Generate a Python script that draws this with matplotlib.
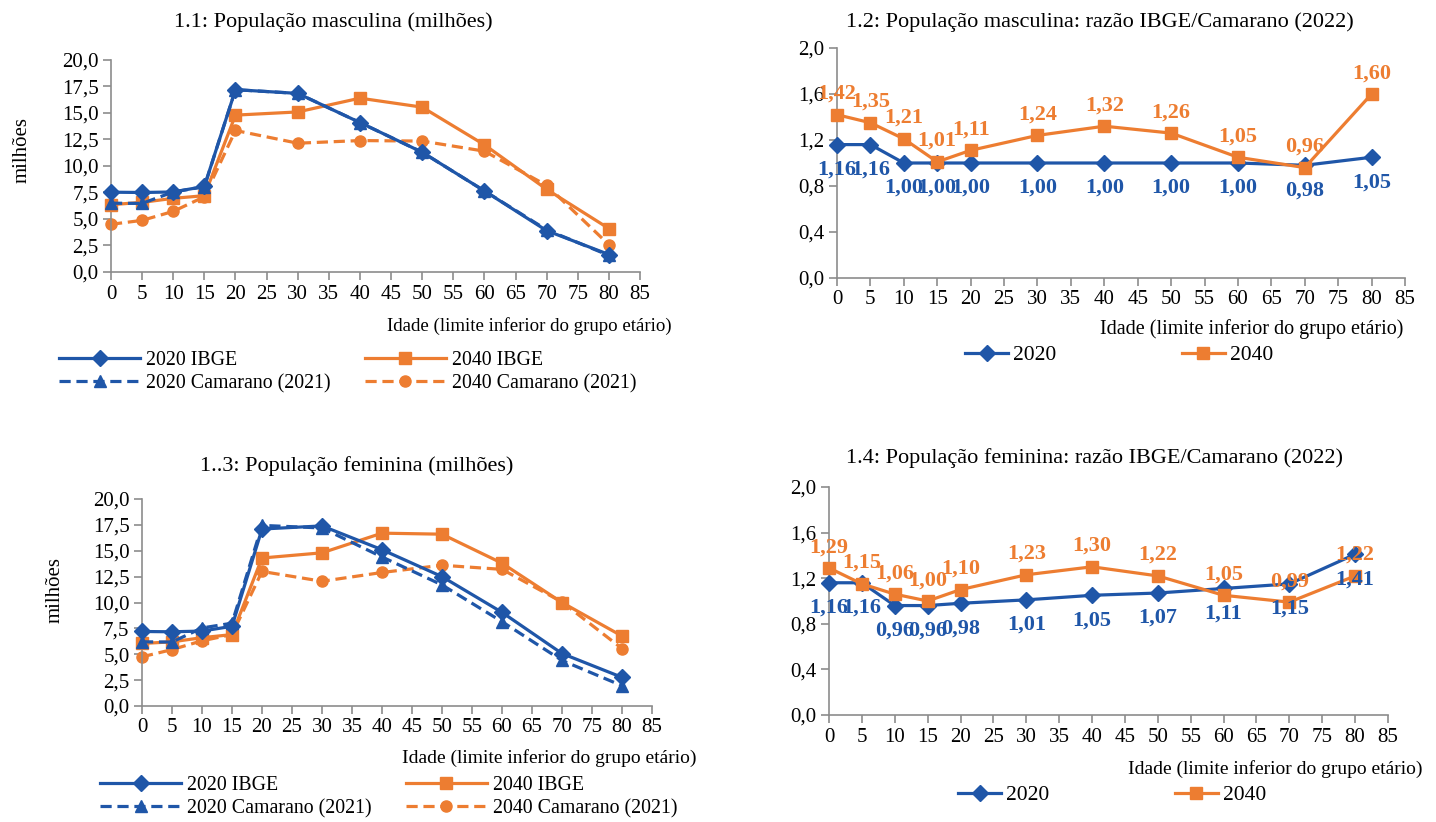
import matplotlib
matplotlib.use("Agg")
import matplotlib.pyplot as plt
from matplotlib.ticker import FuncFormatter, MultipleLocator
from matplotlib.lines import Line2D

plt.rcParams['font.family'] = ['Liberation Serif', 'DejaVu Serif']

# idade (limite inferior do grupo etario)
idades = [0, 5, 10, 15, 20, 30, 40, 50, 60, 70, 80]

# 1.1 populacao masculina (milhoes)
masc_2020_ibge = [7.53, 7.50, 7.55, 8.07, 17.2, 16.85, 14.1, 11.3, 7.65, 3.9, 1.65]
masc_2020_cam = [6.49, 6.47, 7.55, 8.05, 17.2, 16.85, 14.1, 11.3, 7.65, 3.98, 1.57]
masc_2040_ibge = [6.35, 6.57, 6.95, 7.2, 14.8, 15.1, 16.4, 15.55, 12.0, 7.8, 4.1]
masc_2040_cam = [4.5, 4.87, 5.72, 7.1, 13.35, 12.15, 12.4, 12.35, 11.4, 8.17, 2.58]

# 1.2 razao IBGE/Camarano, masculina
razao_masc_2020 = [1.16, 1.16, 1.00, 1.00, 1.00, 1.00, 1.00, 1.00, 1.00, 0.98, 1.05]
razao_masc_2040 = [1.42, 1.35, 1.21, 1.01, 1.11, 1.24, 1.32, 1.26, 1.05, 0.96, 1.60]

# 1.3 populacao feminina (milhoes)
fem_2020_ibge = [7.2, 7.17, 7.24, 7.7, 17.1, 17.4, 15.1, 12.5, 9.05, 5.07, 2.77]
fem_2020_cam = [6.2, 6.18, 7.54, 8.0, 17.45, 17.2, 14.4, 11.7, 8.15, 4.4, 1.96]
fem_2040_ibge = [6.04, 6.2, 6.6, 6.9, 14.3, 14.8, 16.7, 16.6, 13.8, 10.0, 6.76]
fem_2040_cam = [4.75, 5.45, 6.3, 6.9, 13.0, 12.05, 12.9, 13.6, 13.2, 10.05, 5.55]

# 1.4 razao IBGE/Camarano, feminina
razao_fem_2020 = [1.16, 1.16, 0.96, 0.96, 0.98, 1.01, 1.05, 1.07, 1.11, 1.15, 1.41]
razao_fem_2040 = [1.29, 1.15, 1.06, 1.00, 1.10, 1.23, 1.30, 1.22, 1.05, 0.99, 1.22]

AZUL = '#1f56a8'
LARANJA = '#ed7d31'
CINZA = '#8c8c8c'

W, H = 1436, 822
fig = plt.figure(figsize=(W / 100, H / 100), dpi=100)


def caixa(l, t, r, b):
    return [l / W, 1 - b / H, (r - l) / W, (b - t) / H]


def virgula(v, pos):
    return f"{v:.1f}".replace('.', ',')


def estilo(ax, ymax, ystep):
    ax.set_xlim(0, 85)
    ax.set_ylim(0, ymax)
    ax.xaxis.set_major_locator(MultipleLocator(5))
    ax.yaxis.set_major_locator(MultipleLocator(ystep))
    ax.yaxis.set_major_formatter(FuncFormatter(virgula))
    for s in ['top', 'right']:
        ax.spines[s].set_visible(False)
    for s in ['left', 'bottom']:
        ax.spines[s].set_color(CINZA)
        ax.spines[s].set_linewidth(1.2)
    ax.tick_params(direction='out', length=6, width=1.2, color=CINZA,
                   labelsize=15, pad=3)


def painel_pop(ax, s20i, s20c, s40i, s40c):
    ax.plot(idades, s20i, color=AZUL, lw=2.3, marker='D', ms=8.5, clip_on=False, zorder=4)
    ax.plot(idades, s40i, color=LARANJA, lw=2.3, marker='s', ms=8, clip_on=False, zorder=3)
    ax.plot(idades, s20c, color=AZUL, lw=2.3, ls=(0, (3.5, 1.8)), marker='^', ms=8,
            clip_on=False, zorder=3)
    ax.plot(idades, s40c, color=LARANJA, lw=2.3, ls=(0, (3.5, 1.8)), marker='o', ms=8,
            clip_on=False, zorder=2)
    estilo(ax, 20, 2.5)


def painel_razao(ax, r20, r40):
    ax.plot(idades, r20, color=AZUL, lw=2.3, marker='D', ms=8.5, clip_on=False, zorder=3)
    ax.plot(idades, r40, color=LARANJA, lw=2.3, marker='s', ms=8, clip_on=False, zorder=3)
    for x, v in zip(idades, r20):
        ax.annotate(f"{v:.2f}".replace('.', ','), (x, v), xytext=(0, -18),
                    textcoords='offset points', ha='center', va='center',
                    fontsize=16, fontweight='bold', color=AZUL, annotation_clip=False)
    for x, v in zip(idades, r40):
        ax.annotate(f"{v:.2f}".replace('.', ','), (x, v), xytext=(0, 15),
                    textcoords='offset points', ha='center', va='center',
                    fontsize=16, fontweight='bold', color=LARANJA, annotation_clip=False)
    estilo(ax, 2.0, 0.4)


def legenda_pop(x, y):
    h = [Line2D([], [], color=AZUL, lw=2.3, marker='D', ms=8.5),
         Line2D([], [], color=AZUL, lw=2.3, ls=(0, (3.5, 1.8)), marker='^', ms=8),
         Line2D([], [], color=LARANJA, lw=2.3, marker='s', ms=8),
         Line2D([], [], color=LARANJA, lw=2.3, ls=(0, (3.5, 1.8)), marker='o', ms=8)]
    lab = ['2020 IBGE', '2020 Camarano (2021)', '2040 IBGE', '2040 Camarano (2021)']
    fig.legend(h, lab, loc='upper left', bbox_to_anchor=(x / W, 1 - y / H), ncol=2,
               frameon=False, fontsize=14.3, handlelength=4.1, handletextpad=0.3,
               columnspacing=1.7, labelspacing=0.2, borderpad=0, borderaxespad=0)


def legenda_razao(x, y):
    h = [Line2D([], [], color=AZUL, lw=2.3, marker='D', ms=8.5),
         Line2D([], [], color=LARANJA, lw=2.3, marker='s', ms=8)]
    fig.legend(h, ['2020', '2040'], loc='upper left', bbox_to_anchor=(x / W, 1 - y / H),
               ncol=2, frameon=False, fontsize=15.5, handlelength=2.0, handletextpad=0.25,
               columnspacing=5.8, borderpad=0, borderaxespad=0)


xlab = 'Idade (limite inferior do grupo etário)'

# 1.1
ax1 = fig.add_axes(caixa(111, 60, 640, 272))
painel_pop(ax1, masc_2020_ibge, masc_2020_cam, masc_2040_ibge, masc_2040_cam)
fig.text(333 / W, 1 - 22 / H, '1.1: População masculina (milhões)', ha='center',
         va='center', fontsize=16)
fig.text(387 / W, 1 - 326 / H, xlab, ha='left', va='center', fontsize=13.6)
fig.text(22 / W, 1 - 150 / H, 'milhões', rotation=90, ha='center', va='center', fontsize=15)
legenda_pop(59, 351)

# 1.2
ax2 = fig.add_axes(caixa(837, 48, 1405, 278))
painel_razao(ax2, razao_masc_2020, razao_masc_2040)
fig.text(1100 / W, 1 - 22 / H, '1.2: População masculina: razão IBGE/Camarano (2022)',
         ha='center', va='center', fontsize=16)
fig.text(1100 / W, 1 - 329 / H, xlab, ha='left', va='center', fontsize=14.5)
legenda_razao(965, 345)

# 1.3
ax3 = fig.add_axes(caixa(142, 499, 652, 706))
painel_pop(ax3, fem_2020_ibge, fem_2020_cam, fem_2040_ibge, fem_2040_cam)
fig.text(357 / W, 1 - 466 / H, '1..3: População feminina (milhões)', ha='center',
         va='center', fontsize=16)
fig.text(696 / W, 1 - 758 / H, xlab, ha='right', va='center', fontsize=14)
fig.text(55 / W, 1 - 590 / H, 'milhões', rotation=90, ha='center', va='center', fontsize=15)
legenda_pop(100, 776)

# 1.4
ax4 = fig.add_axes(caixa(829, 487, 1388, 715))
painel_razao(ax4, razao_fem_2020, razao_fem_2040)
fig.text(1094 / W, 1 - 458 / H, '1.4: População feminina: razão IBGE/Camarano (2022)',
         ha='center', va='center', fontsize=16)
fig.text(1422 / W, 1 - 769 / H, xlab, ha='right', va='center', fontsize=14)
legenda_razao(958, 785)

fig.savefig('out.png', dpi=100)
